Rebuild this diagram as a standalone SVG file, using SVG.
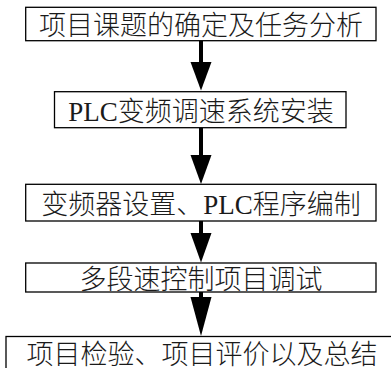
<svg xmlns="http://www.w3.org/2000/svg" width="391" height="368" viewBox="0 0 391 368">
<style>
.box{fill:#fff;stroke:#000;stroke-width:1.3}
.t{font-family:"Liberation Serif","Noto Sans CJK SC",serif;font-size:27px;font-weight:300;fill:#1a1a1a;text-anchor:middle}
.shaft{stroke:#000;stroke-width:4;fill:none}
.head{fill:#000}
</style>
<rect width="391" height="368" fill="#fff"/>
<g id="connectors">
<line class="shaft" x1="201" y1="41" x2="201" y2="63"/>
<polygon class="head" points="190.5,62 211.5,62 201,90.5"/>
<line class="shaft" x1="201" y1="128" x2="201" y2="156"/>
<polygon class="head" points="190.5,155 211.5,155 201,184"/>
<line class="shaft" x1="201" y1="221" x2="201" y2="234"/>
<polygon class="head" points="190.5,233 211.5,233 201,262.5"/>
<line class="shaft" x1="201" y1="292" x2="201" y2="298"/>
<polygon class="head" points="190.5,297 211.5,297 201,336"/>
</g>
<g id="n1">
<rect class="box" x="25.7" y="7.3" width="350.3" height="33.4"/>
<text class="t" x="201" y="35">项目课题的确定及任务分析</text>
</g>
<g id="n2">
<rect class="box" x="54.5" y="91.7" width="291.5" height="36"/>
<text class="t" x="201" y="120.7">PLC变频调速系统安装</text>
</g>
<g id="n3">
<rect class="box" x="25.7" y="184.3" width="350.3" height="36.7"/>
<text class="t" x="201" y="213.5">变频器设置、PLC程序编制</text>
</g>
<g id="n4">
<rect class="box" x="25.7" y="263" width="350.3" height="29"/>
<text class="t" x="201" y="288.5">多段速控制项目调试</text>
</g>
<g id="n5">
<rect class="box" x="6" y="336.5" width="395" height="40"/>
<text class="t" x="202" y="363.5">项目检验、项目评价以及总结</text>
</g>
</svg>
